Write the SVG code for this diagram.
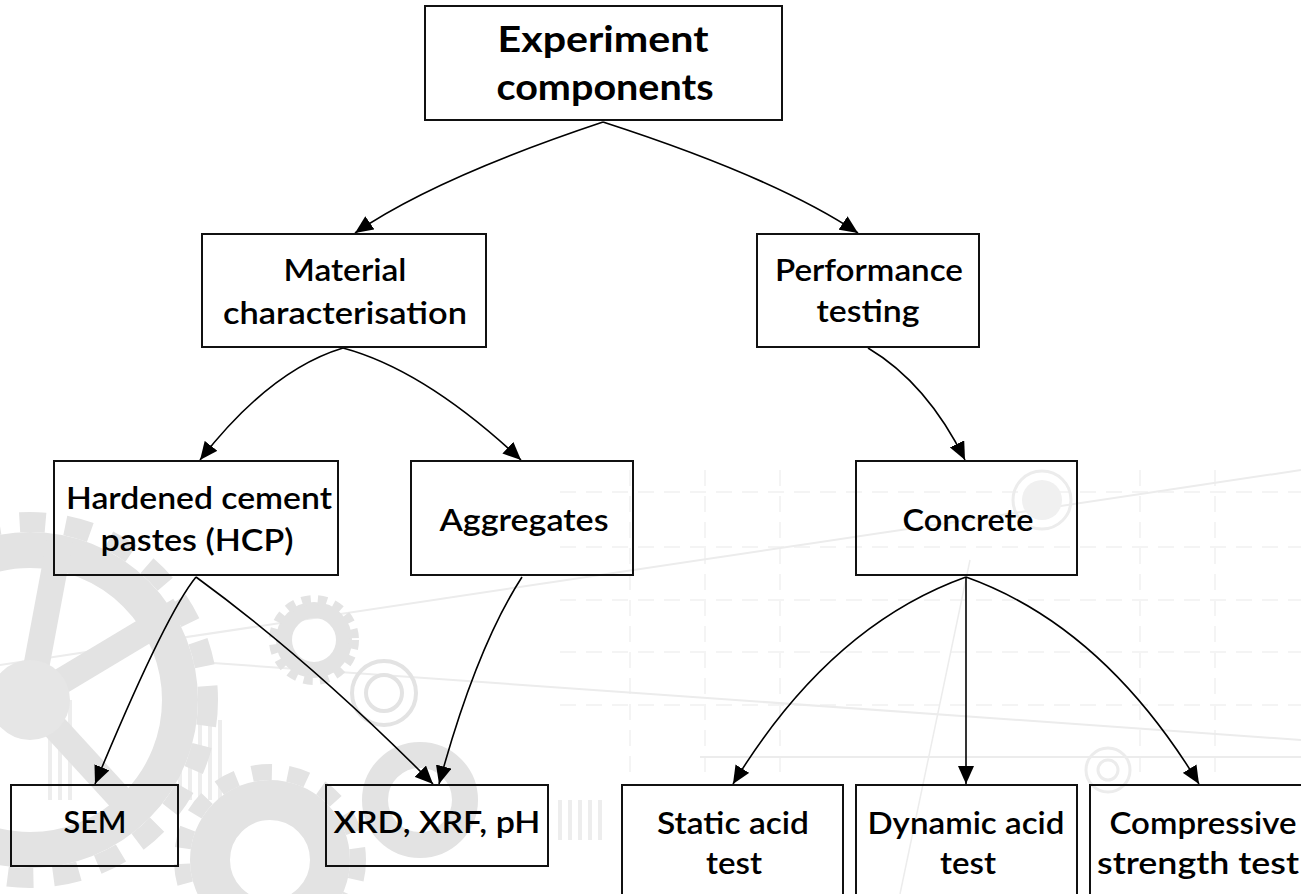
<svg xmlns="http://www.w3.org/2000/svg" width="1301" height="894" viewBox="0 0 1301 894">
  <defs>
    <marker id="arrow" viewBox="0 0 18 16" markerWidth="18" markerHeight="16" refX="18" refY="8" orient="auto" markerUnits="userSpaceOnUse">
      <path d="M0,0 L18,8 L0,16 z" fill="#000"/>
    </marker>
    <style>
      .box { fill: none; stroke: #111; stroke-width: 2; }
      .t1 { font-family: Lato, "Liberation Sans", sans-serif; font-weight: 700; font-size: 37px; fill: #000; text-anchor: middle; }
      .t2 { font-family: Lato, "Liberation Sans", sans-serif; font-weight: 600; font-size: 30px; fill: #000; text-anchor: middle; }
      .edge { fill: none; stroke: #000; stroke-width: 1.6; marker-end: url(#arrow); }
      .bgl { fill: none; stroke: #ececec; }
      .bgg { fill: none; stroke: #e3e3e3; }
    </style>
  </defs>

  <rect x="0" y="0" width="1301" height="894" fill="#fff"/>

  <g id="background">
    <g stroke="#f4f4f4" stroke-width="2" stroke-dasharray="16 10" fill="none">
      <line x1="560" y1="492" x2="1301" y2="492"/>
      <line x1="560" y1="547" x2="1301" y2="547"/>
      <line x1="560" y1="600" x2="1301" y2="600"/>
      <line x1="560" y1="652" x2="1301" y2="652"/>
      <line x1="560" y1="705" x2="1301" y2="705"/>
      <line x1="630" y1="470" x2="630" y2="780"/>
      <line x1="705" y1="470" x2="705" y2="780"/>
      <line x1="780" y1="470" x2="780" y2="780"/>
      <line x1="1140" y1="470" x2="1140" y2="780"/>
      <line x1="1215" y1="470" x2="1215" y2="780"/>
    </g>
    <line class="bgl" stroke-width="2" x1="0" y1="665" x2="1301" y2="470"/>
    <line class="bgl" stroke-width="2" x1="170" y1="660" x2="1301" y2="740"/>
    <line class="bgl" stroke-width="2" x1="700" y1="757" x2="1301" y2="757"/>
    <line class="bgl" stroke-width="1.5" x1="970" y1="560" x2="900" y2="894"/>
    <circle cx="1042" cy="500" r="20" fill="#f0f0f0" stroke="none"/>
    <circle cx="1042" cy="500" r="29" class="bgl" stroke-width="3"/>
    <circle cx="1108" cy="770" r="22" class="bgl" stroke-width="3"/>
    <circle cx="1108" cy="770" r="10" class="bgl" stroke-width="3"/>
    <g stroke="#ededed" stroke-width="4">
      <line x1="50" y1="700" x2="50" y2="800"/><line x1="60" y1="700" x2="60" y2="800"/>
      <line x1="70" y1="700" x2="70" y2="800"/><line x1="180" y1="720" x2="180" y2="800"/>
      <line x1="190" y1="720" x2="190" y2="800"/><line x1="200" y1="720" x2="200" y2="800"/>
      <line x1="210" y1="720" x2="210" y2="800"/><line x1="220" y1="720" x2="220" y2="800"/>
      <line x1="560" y1="800" x2="560" y2="840"/><line x1="570" y1="800" x2="570" y2="840"/>
      <line x1="580" y1="800" x2="580" y2="840"/><line x1="590" y1="800" x2="590" y2="840"/>
      <line x1="600" y1="800" x2="600" y2="840"/>
    </g>
    <circle cx="30" cy="700" r="150" class="bgg" stroke-width="36"/>
    <circle cx="30" cy="700" r="178" class="bgg" stroke-width="20" stroke-dasharray="26 20"/>
    <g stroke="#e3e3e3" stroke-width="26">
      <line x1="30" y1="700" x2="180" y2="610"/>
      <line x1="30" y1="700" x2="140" y2="820"/>
      <line x1="30" y1="700" x2="60" y2="540"/>
    </g>
    <circle cx="30" cy="700" r="40" fill="#e6e6e6"/>
    <circle cx="314" cy="640" r="30" class="bgg" stroke="#dcdcdc" stroke-width="16"/>
    <circle cx="314" cy="640" r="40" class="bgg" stroke="#dcdcdc" stroke-width="10" stroke-dasharray="9 7"/>
    <circle cx="384" cy="693" r="32" class="bgg" stroke="#dedede" stroke-width="4"/>
    <circle cx="384" cy="693" r="18" class="bgg" stroke="#dedede" stroke-width="4"/>
    <circle cx="270" cy="860" r="60" class="bgg" stroke="#e2e2e2" stroke-width="40"/>
    <circle cx="270" cy="860" r="88" class="bgg" stroke="#e2e2e2" stroke-width="16" stroke-dasharray="20 16"/>
    <circle cx="420" cy="800" r="45" class="bgg" stroke="#e8e8e8" stroke-width="26"/>
  </g>

  <g id="connectors">
    <path class="edge" d="M603,122 Q435,178 355,233"/>
    <path class="edge" d="M603,122 Q776,178 858,233"/>
    <path class="edge" d="M343,348 Q270,370 200,460"/>
    <path class="edge" d="M343,348 Q425,370 521,460"/>
    <path class="edge" d="M868,348 Q927,383 965,460"/>
    <path class="edge" d="M196,577 Q165,615 95,784"/>
    <path class="edge" d="M196,577 Q311,661 433,784"/>
    <path class="edge" d="M522,577 Q476,648 439,784"/>
    <path class="edge" d="M966,577 Q829,626 733,784"/>
    <path class="edge" d="M966,577 L966,784"/>
    <path class="edge" d="M966,577 Q1103,626 1199,784"/>
  </g>

  <g id="experiment-components">
    <rect class="box" x="425" y="6" width="357" height="114"/>
    <text class="t1" x="603" y="52" textLength="211" lengthAdjust="spacingAndGlyphs">Experiment</text>
    <text class="t1" x="605" y="100" textLength="217" lengthAdjust="spacingAndGlyphs">components</text>
  </g>
  <g id="material-characterisation">
    <rect class="box" x="202" y="234" width="284" height="113"/>
    <text class="t2" x="345" y="281" textLength="123" lengthAdjust="spacingAndGlyphs">Material</text>
    <text class="t2" x="345" y="324" textLength="244" lengthAdjust="spacingAndGlyphs">characterisation</text>
  </g>
  <g id="performance-testing">
    <rect class="box" x="757" y="234" width="222" height="113"/>
    <text class="t2" x="869" y="281" textLength="188" lengthAdjust="spacingAndGlyphs">Performance</text>
    <text class="t2" x="868" y="322" textLength="103" lengthAdjust="spacingAndGlyphs">testing</text>
  </g>
  <g id="hcp">
    <rect class="box" x="54" y="461" width="284" height="114"/>
    <text class="t2" x="199" y="509" textLength="266" lengthAdjust="spacingAndGlyphs">Hardened cement</text>
    <text class="t2" x="197" y="551" textLength="193" lengthAdjust="spacingAndGlyphs">pastes (HCP)</text>
  </g>
  <g id="aggregates">
    <rect class="box" x="411" y="461" width="222" height="114"/>
    <text class="t2" x="524" y="531" textLength="169" lengthAdjust="spacingAndGlyphs">Aggregates</text>
  </g>
  <g id="concrete">
    <rect class="box" x="856" y="461" width="221" height="114"/>
    <text class="t2" x="968" y="531" textLength="131" lengthAdjust="spacingAndGlyphs">Concrete</text>
  </g>
  <g id="sem">
    <rect class="box" x="11" y="785" width="167" height="81"/>
    <text class="t2" x="95" y="833" textLength="63" lengthAdjust="spacingAndGlyphs">SEM</text>
  </g>
  <g id="xrd-xrf-ph">
    <rect class="box" x="326" y="785" width="222" height="81"/>
    <text class="t2" x="437" y="833" textLength="207" lengthAdjust="spacingAndGlyphs">XRD, XRF, pH</text>
  </g>
  <g id="static-acid-test">
    <rect class="box" x="622" y="785" width="221" height="120"/>
    <text class="t2" x="733" y="834" textLength="152" lengthAdjust="spacingAndGlyphs">Static acid</text>
    <text class="t2" x="734" y="874" textLength="56" lengthAdjust="spacingAndGlyphs">test</text>
  </g>
  <g id="dynamic-acid-test">
    <rect class="box" x="856" y="785" width="221" height="120"/>
    <text class="t2" x="966" y="834" textLength="197" lengthAdjust="spacingAndGlyphs">Dynamic acid</text>
    <text class="t2" x="968" y="874" textLength="56" lengthAdjust="spacingAndGlyphs">test</text>
  </g>
  <g id="compressive-strength-test">
    <rect class="box" x="1090" y="785" width="230" height="120"/>
    <text class="t2" x="1203" y="834" textLength="187" lengthAdjust="spacingAndGlyphs">Compressive</text>
    <text class="t2" x="1198" y="874" textLength="202" lengthAdjust="spacingAndGlyphs">strength test</text>
  </g>
</svg>
